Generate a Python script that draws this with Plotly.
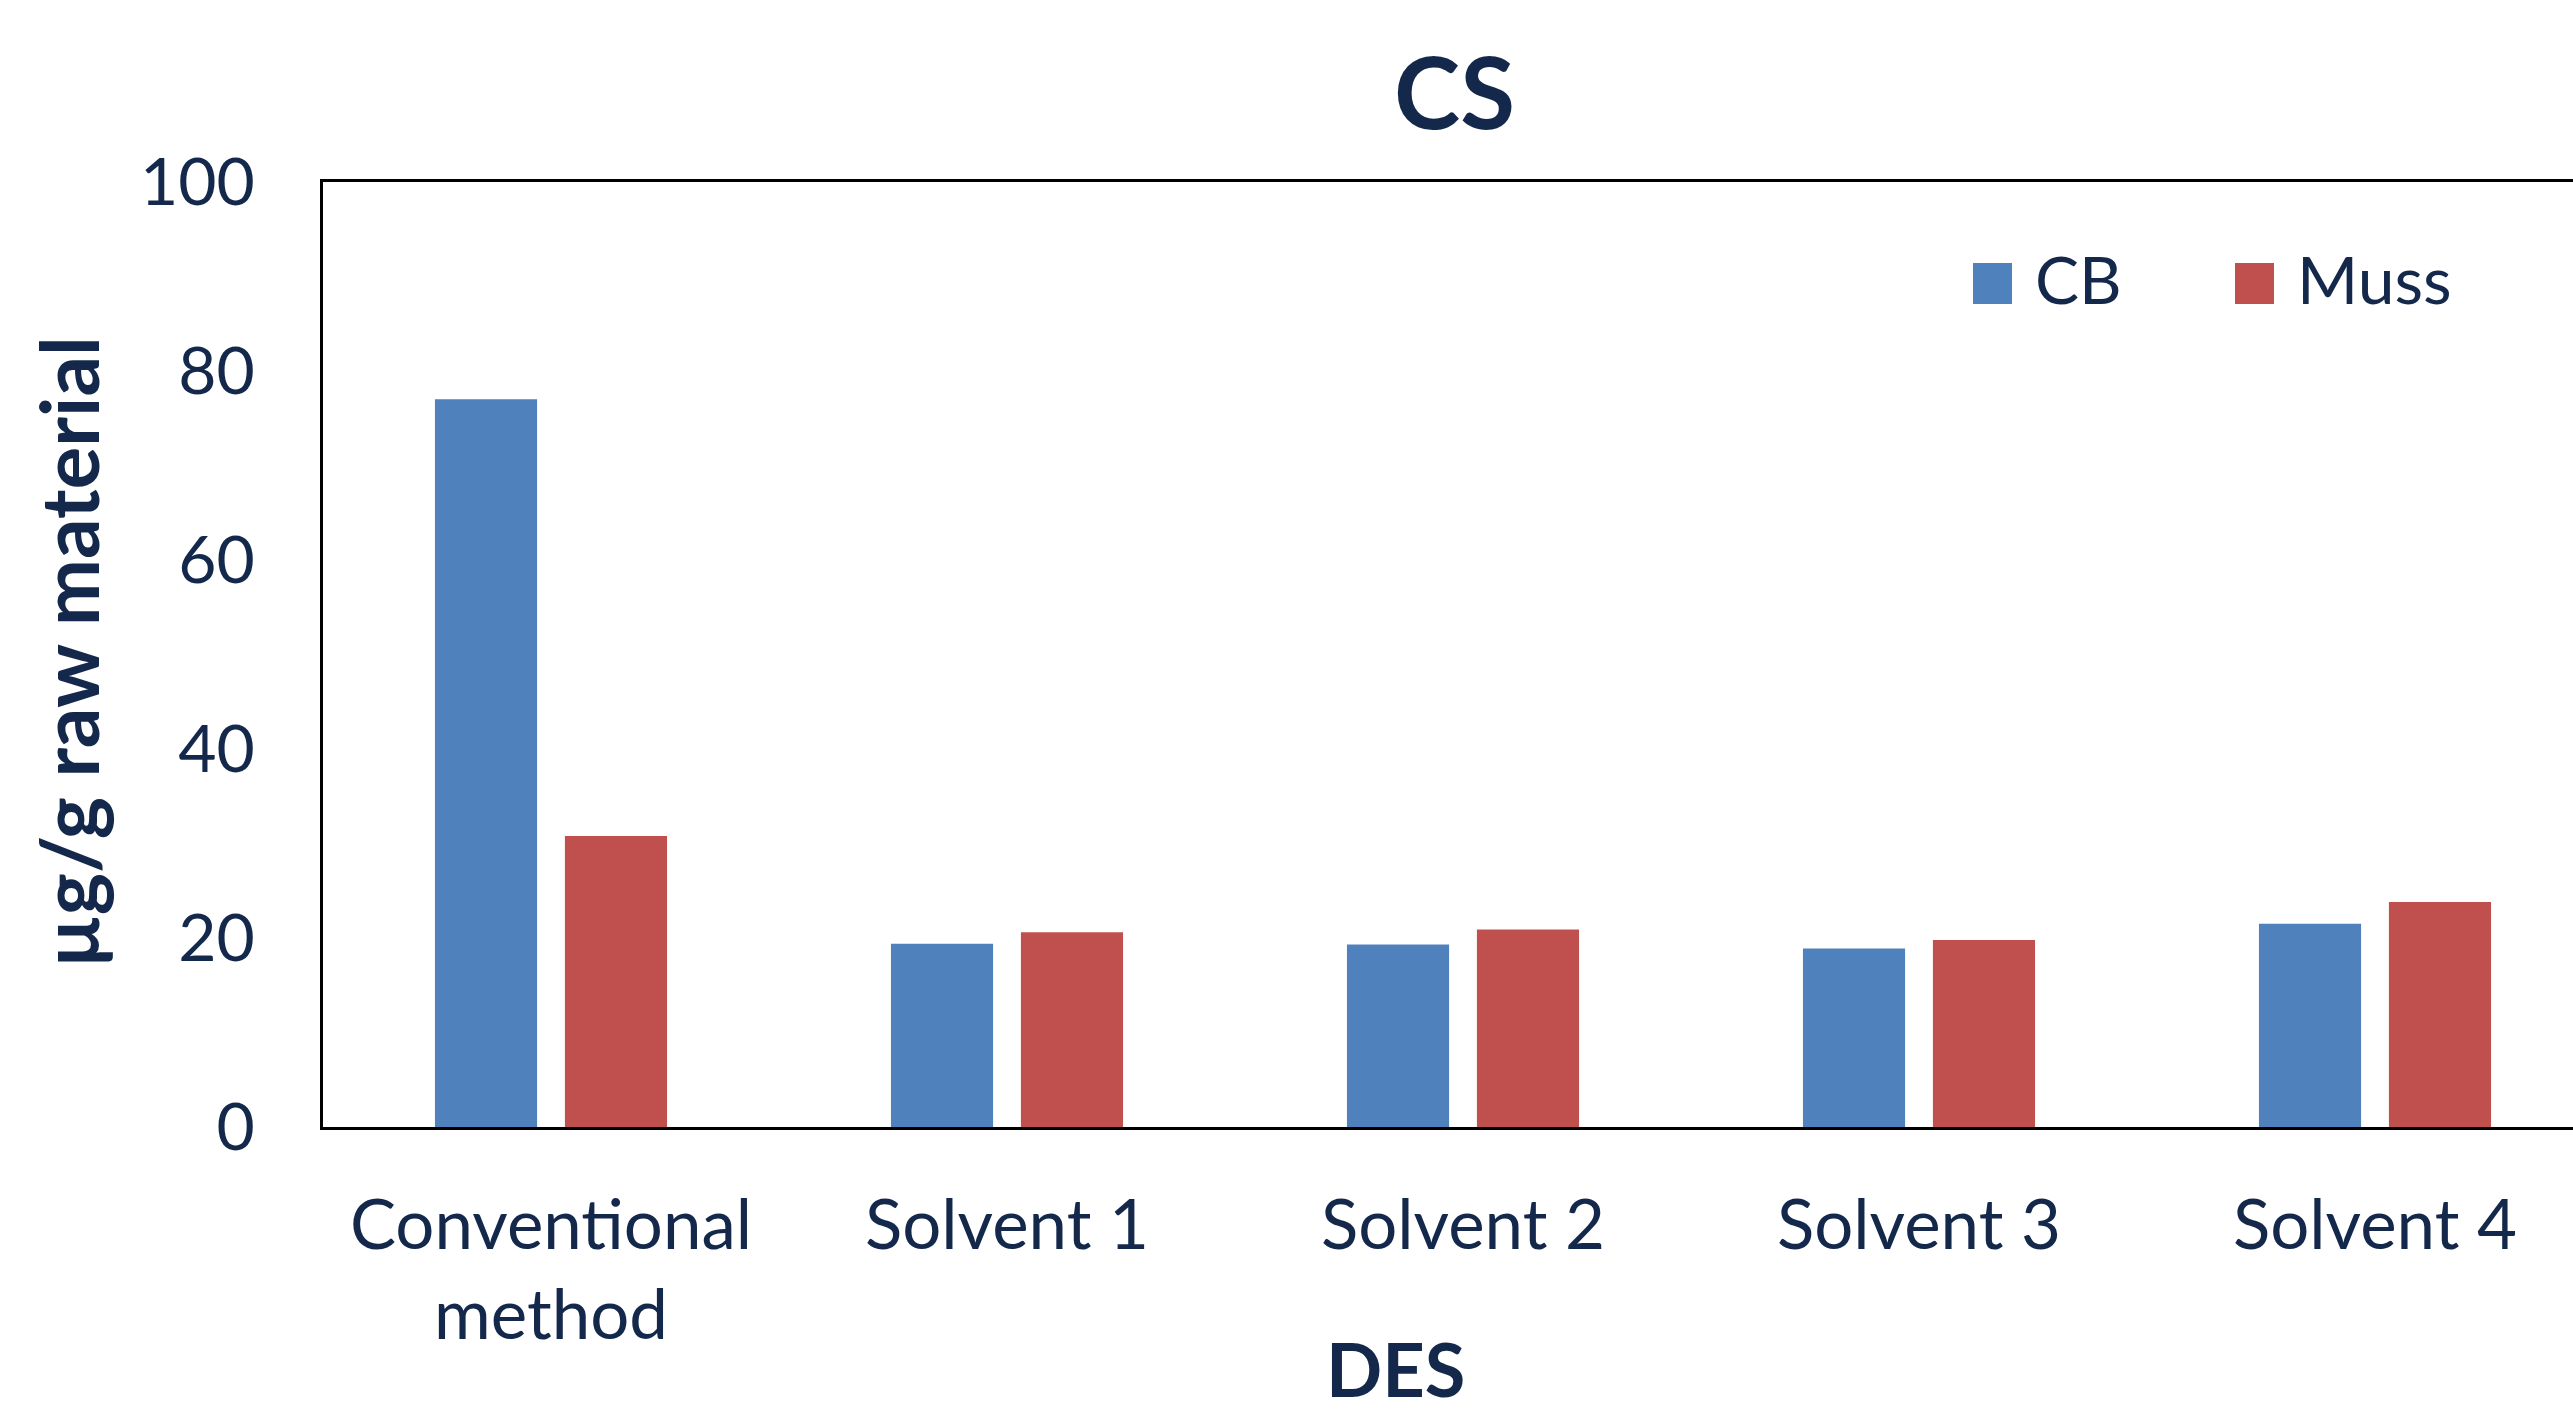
import plotly.graph_objects as go

categories = ["Conventional<br>method", "Solvent 1", "Solvent 2", "Solvent 3", "Solvent 4"]
cb_values = [77.0, 19.4, 19.3, 18.9, 21.5]
muss_values = [30.8, 20.6, 20.9, 19.8, 23.8]
series_names = ["CB", "Muss"]
y_ticks = [0, 20, 40, 60, 80, 100]

BLUE = "#4F81BD"
RED = "#C0504D"
TXT = "#14284B"
FONT = "Lato"

W, H = 2573, 1416
L, R, T, B = 323, 0, 182, 289
PW = W - L - R
PH = H - T - B


def px(x):
    return (x - L) / PW


def py(y):
    return (H - B - y) / PH


fig = go.Figure()
fig.add_trace(go.Bar(x=categories, y=cb_values, name=series_names[0],
                     marker=dict(color=BLUE, line=dict(width=0)), showlegend=False))
fig.add_trace(go.Bar(x=categories, y=muss_values, name=series_names[1],
                     marker=dict(color=RED, line=dict(width=0)), showlegend=False))

fig.update_layout(
    width=W, height=H,
    margin=dict(l=L, r=R, t=T, b=B, pad=0),
    paper_bgcolor="white", plot_bgcolor="white",
    barmode="group", bargap=0.43, bargroupgap=0.214,
    font=dict(family=FONT, color=TXT, size=66),
    xaxis=dict(
        range=[-0.5, -0.5 + PW / 456.0],
        showline=True, linecolor="black", linewidth=3, mirror=True,
        showgrid=False, zeroline=False, ticks="",
        tickfont=dict(family=FONT, size=69, color=TXT),
        ticklabelstandoff=36,
    ),
    yaxis=dict(
        range=[0, 100], tickvals=y_ticks,
        showline=True, linecolor="black", linewidth=3,
        showgrid=False, zeroline=False, ticks="",
        tickfont=dict(family=FONT, size=66, color=TXT),
        ticklabelstandoff=52,
    ),
)

annotations = [
    dict(text="<b>CS</b>", x=px(1454), y=py(90), xref="paper", yref="paper",
         xanchor="center", yanchor="middle", showarrow=False,
         font=dict(family=FONT, size=100, color=TXT)),
    dict(text="<b>DES</b>", x=px(1395), y=py(1368), xref="paper", yref="paper",
         xanchor="center", yanchor="middle", showarrow=False,
         font=dict(family=FONT, size=74, color=TXT)),
    dict(text="<b>µg/g raw material</b>", x=px(68), y=py(652), xref="paper", yref="paper",
         xanchor="center", yanchor="middle", showarrow=False, textangle=-90,
         font=dict(family=FONT, size=80, color=TXT)),
]

legend_items = [(series_names[0], BLUE, 1973), (series_names[1], RED, 2235)]
shapes = []
for name, col, x0 in legend_items:
    shapes.append(dict(type="rect", xref="paper", yref="paper",
                       x0=px(x0), x1=px(x0 + 39), y0=py(304), y1=py(263),
                       fillcolor=col, line=dict(width=0)))
    annotations.append(dict(text=name, x=px(x0 + 60), y=py(278), xref="paper", yref="paper",
                            xanchor="left", yanchor="middle", showarrow=False,
                            font=dict(family=FONT, size=66, color=TXT)))

fig.update_layout(annotations=annotations, shapes=shapes)
fig.write_html("out.html")
